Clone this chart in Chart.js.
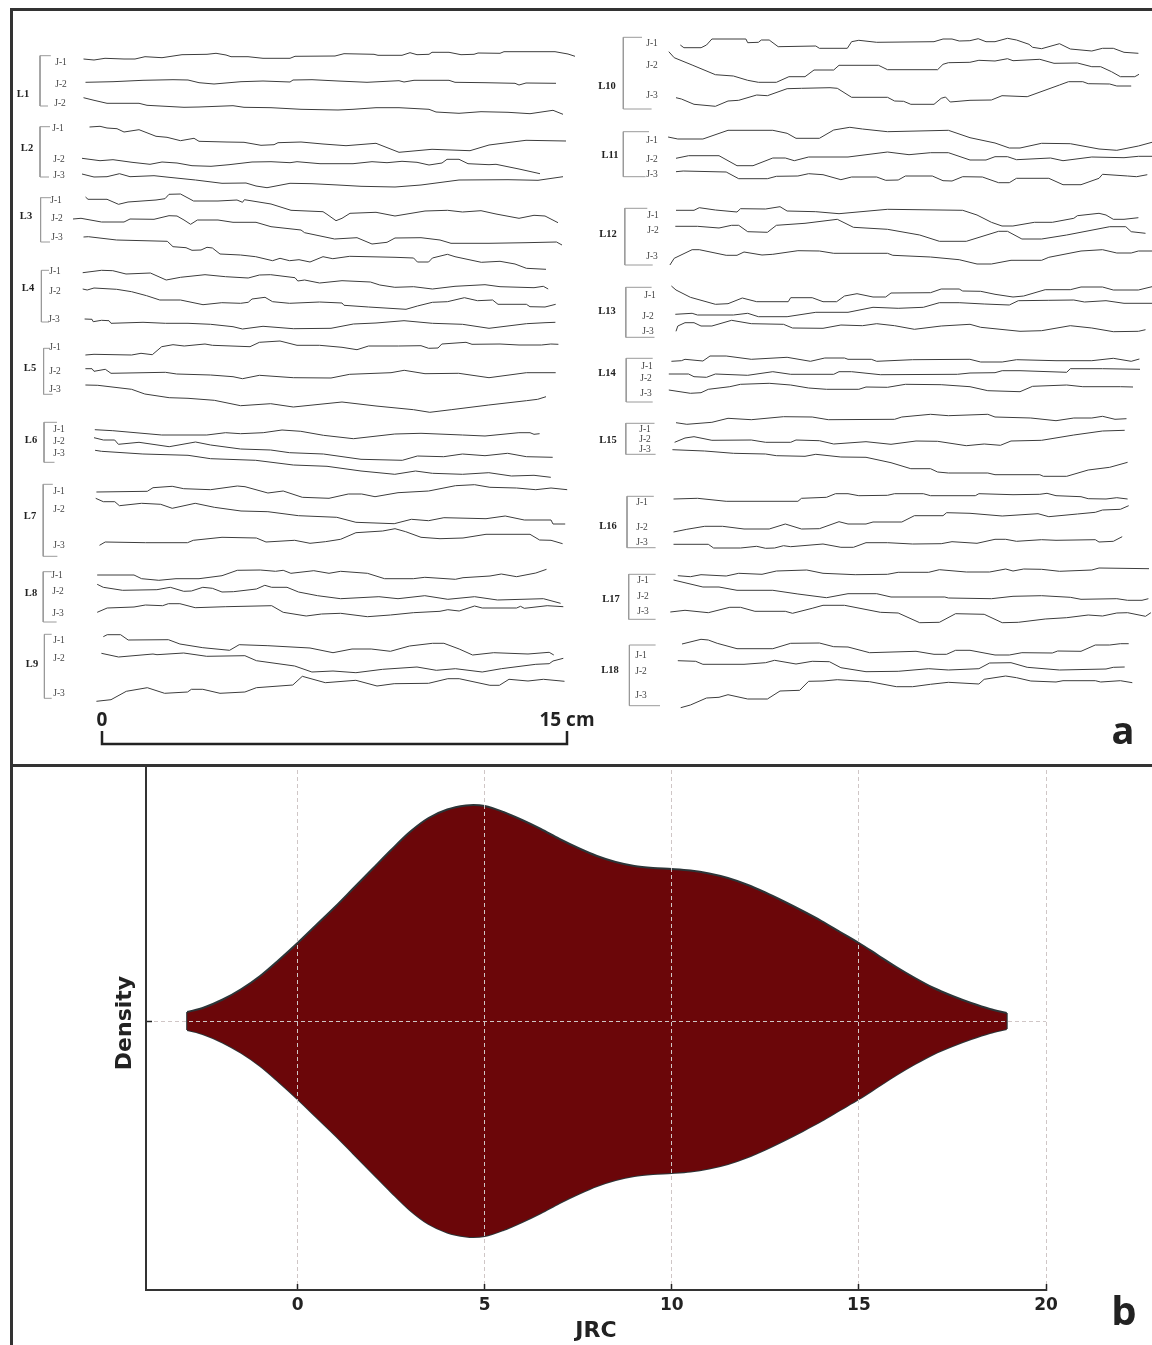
<!DOCTYPE html>
<html><head><meta charset="utf-8">
<style>
html,body{margin:0;padding:0;background:#fff;width:1152px;height:1345px;overflow:hidden}
canvas{position:absolute;left:0;display:block}
#a{top:0;background:#fff;z-index:2}#b{top:756px;z-index:1}
.f{position:absolute;background:#333;z-index:3}
</style>
<script src="https://cdn.jsdelivr.net/npm/chart.js@4"></script>
</head><body>
<canvas id="a" width="1152" height="765"></canvas>
<canvas id="b" width="1152" height="589"></canvas>
<div class="f" style="left:10px;top:8px;width:1142px;height:2.5px"></div>
<div class="f" style="left:10px;top:8px;width:2.5px;height:1337px"></div>
<div class="f" style="left:10px;top:764px;width:1142px;height:2.5px"></div>
<script>
// Panel a: joint profile traces, as x,y pairs
const L1_J1=[83.5,59,94,60,105,58.3,124,59,135,59,145,56.7,162,57.7,182,54.7,207,54.3,216,53.3,226,55,231,56.7,248,56.7,263,58.3,290,58.3,295,56.3,335,56,344,53.7,374,54.3,378,55.3,402,55.3,410,52.7,417,54.7,429,54.3,432,52.3,449,52.3,461,54.7,474,54.3,478,53,500,53.3,504,51.7,555,51.7,568,54,575,56.3];
const L1_J2=[85.5,82.3,113,81.7,143,80.3,173,79.7,188,80,199,82.7,214,84,241,81.7,263,81,290,82,293,80,312,79.7,338,81,367,82.3,399,80.7,404,82,414,80.3,449,80.3,455,82.3,485,82.7,515,83.3,519,85,526,83,556,83.3];
const L1_J3=[83.5,97.7,94,100.3,107,103.3,139,103.3,147,105.3,184,107.3,199,107,233,105.7,244,107.3,271,107.7,301,109.3,338,110,353,109.3,376,107.7,399,107.7,429,109.3,436,112,459,113.3,481,111.7,508,112.3,530,113.7,553,110.3,563,114.3];
const L2_J1=[89.5,127,100,126.3,107,128,117,128.7,124,132,139,129.7,156,136.3,167,137.3,180.5,140.7,194,138.3,199,141.3,226,142,244,142.3,261,145.3,274,144.7,278,142.7,301,142,323,144,346,145.7,376,143.3,399,152.3,432,149.3,470,150.7,489,145,526,140.3,566,141];
const L2_J2=[82,158.3,100,160.7,113,159.7,132,162.3,150,164.3,162,162,177,163,192,165.7,211,166.3,229,164.7,252,162,271,161.7,290,162.7,297,161.7,320,163.7,353,163.7,372,161.7,387,162.7,402,161.3,417,162.3,429,165,442,163,447,159.3,459,159.3,468,163.7,489,164.7,496,164.3,519,169,540,173.7];
const L2_J3=[82,174,94,177,107,176.7,119.5,173.7,130,176.7,154,175.7,169,177.3,195.5,180,222,183.3,246,183,256,186,267,187.7,290,183.3,312,183.7,338,185,361,186.3,395,187,421,185,459,180,508,179.7,538,180.3,563,176.7];
const L3_J1=[85.5,197,88,199.3,107,199.3,118.5,204.3,128,202,156,200,165,198.7,169,194.3,180.5,194,193.6,201,218,201,237,200,242.5,202.3,244.4,199.7,271,204,291,210.3,323,211.7,327,214.3,336,220.7,342,218.3,350,213.3,376,212.3,395,216,425,211,447.5,210.3,462.5,212,481,210.7,496,214,519,218.3,534,215.3,545,216,558,222.7];
const L3_J2=[73,219,81,218.3,101.5,222,124,222,130,219,154,219.3,169,215.7,177,216,184,220,190.6,224.3,197.4,220,218,220,233,222.3,256,222.3,271,226.7,301,230,304.6,232.7,334.6,239,357,237.7,372,244,387,242.3,395,238,421,237.7,440,240,451,243.3,489,243.3,526,242.7,556.5,242,562,245];
const L3_J3=[83.5,237,88.4,236.7,116.6,240,167.3,241.3,173,246.7,186,247.7,192,250.3,201,250,207,247.3,212.4,248,220,254,240.6,255,255.7,256.7,272.6,260.7,280,258.3,289.5,260.7,299,259.7,310,262,323,256.7,332.8,258.7,349.7,256.3,395,257.3,413.6,258,417.4,262,428.6,262,432.4,258,447.4,254.3,455,256.7,481.3,262.3,500,261.3,515,264,526.4,268.3,546,269.3];
const L4_J1=[82.7,272.7,101.5,270.3,112.8,270.7,126,274,150.4,273,166.2,280,180.5,277.3,205,274.7,225.6,276.7,248.2,278,259.4,275,270.7,274.7,295,277.7,297.8,281,304.6,280,319.6,283,342,280.7,370.4,282,379.8,285,394.8,287.3,413.6,286.7,432.4,289,455,286.3,485,284.7,500,286.7,534,287.7,543.3,286.3,548.2,289];
const L4_J2=[82.7,289,87.2,290,94,288,116.6,289.3,131.6,291.7,146.6,295.7,159.8,300,180.5,300,203,304.7,221.8,302.7,240.6,303.3,248.2,302.3,252,299,265,297.3,272.6,301.7,289.5,303.3,319.6,302,342,303,344,305.3,368.5,307,406,309.3,417.4,306,432.4,302.3,447.4,301.7,464.4,297.7,477.5,300.7,492.6,300,498,304.3,526.4,304.3,530,306.7,545,307,555.7,304.3];
const L4_J3=[84.6,319,92,319.3,93.2,321.7,101.5,320.3,109,320.7,111,323.3,143,322.3,165.4,323.3,188,323.3,210.6,324.3,233,326.7,242.5,329,263,326.3,293.3,328.7,331,328.3,353.4,324,376,323,404,320.7,432.4,323.3,462.5,324.3,489,328.3,526.4,323.7,545,322.7,555.4,322.3];
const L5_J1=[85.4,355,94,354.3,131.6,355,141,353.3,152.3,354.7,161.7,346.7,173,344.7,184.2,346,205,344,212.4,345.3,250,346.7,259.4,342.3,280,341,297,345.3,319.6,345.3,342,347.3,357,349.7,368.5,346,398.6,346,421,345.7,428.6,348.3,438,348,441.8,344,466,342.3,472,344.3,500,344,519,345,541.4,345,550.8,344,558.4,344.3];
const L5_J2=[85.4,368.7,92,368.7,94,371.3,105.3,369.3,111,373.3,165.4,372.3,176.7,374,210.6,375,233,376.7,242.5,378.7,259.4,375.3,293.3,377.7,331,378,349.7,374.3,391,372.7,404.2,370.3,425,373.7,458.7,373.3,489,377.7,526.4,372.7,555.7,372.7];
const L5_J3=[85.4,385,97.8,385.3,131.6,389.3,144.8,394,169.2,397.7,188,398.3,214.3,400.3,240.6,405.7,270.7,403.7,293.3,407,342,402,376,406,413.6,409.7,429.8,412.3,451.2,409.7,488.8,405,526.4,400.7,537.7,399.3,546,396.7];
const L6_J1=[94.8,429.7,112.8,430.7,161.7,435,206.8,435,225.6,432.7,240.6,433.7,263.2,432.7,282,430,300.8,431.3,323.4,435.3,353.4,438.7,394.8,434,421,433.3,462.5,435,485,436,518.9,432.7,530,432.7,534,434.3,539.6,433.7];
const L6_J2=[94,437.7,103.4,440,114.7,440,118.4,444.3,139,442.3,169.2,446.7,195.5,442,210.6,445,240.6,449,270.7,450,289.5,452.7,323.4,454,361,459.3,402.3,460.3,417.4,456,443.7,456.7,462.5,454,485,455.7,507.6,453.3,526.4,456.7,552.7,457.3];
const L6_J3=[95.1,450.3,101.5,451.3,142.9,454,188,455.3,210.6,458.7,255.7,460.3,293.3,465,327,466.3,361,471,394.8,474.3,415.5,471,432.4,473.3,462.5,474.3,488.8,472.7,511.4,476,534,475.3,550.8,477.3];
const L7_J1=[96.4,492,147.3,491.3,153,487.7,172.2,486.3,183.7,488.7,210.5,489.7,237.3,486,245,486.7,267.9,493,283.2,491,302.3,497.3,329,498.3,348.3,494,361.7,494,375,496.7,398,492.7,428.6,491,455.4,485.7,474.6,484.7,489.9,487.3,516.6,488,535.8,489.7,551,488,567.2,489.7];
const L7_J2=[95.7,498.3,103.3,501.7,114.8,501.7,119.4,505.7,141.6,503.3,160.7,504.3,172.2,508.3,195.2,503.3,214.3,507.3,241,511,267.9,511.7,298.5,515.7,336.8,517.3,355.9,522.3,394.2,523.7,411.4,519.3,428.6,520.7,443.9,517.7,486,518.7,505.2,516,524.3,520,551,520,553,524,565.2,524];
const L7_J3=[99.5,545.3,105.2,542,145.4,542.7,187.5,542.7,193.3,540.3,222,537.3,256.4,538,266,542,294.7,540.3,310,543.3,325.3,541.7,340.6,539.3,355.9,532.7,382.7,531,395,528.7,405.7,531.7,421,537.3,440,538.7,463,538,486,534.3,530,534.3,539.6,540,551,540.3,562.6,543.7];
const L8_J1=[97.2,575,134,575,141.6,578.7,158.8,580.3,176,578.7,199,578.7,222,575.7,237.3,570.3,260.2,570,275.5,571.3,283.2,570.3,290.9,573.3,313.8,570.7,329,573.3,340.6,571.3,367.4,573.3,384.6,578.7,413.3,578.7,424.8,577.3,455.4,579.3,463,577.7,490,576,501.3,574,516.6,576.7,535.8,573,546.5,569.3];
const L8_J2=[97.2,584.3,103.3,587.3,122.5,590.3,156.9,589.7,170.3,587.3,183.7,591.3,191.4,591,202.8,587.3,212.4,588.3,222,592,233.4,591.7,256.4,589,264.8,585.3,271.7,587.3,287,587.3,298.5,592,317.6,595.7,340.6,598.7,378.9,596.7,398,598.7,424.8,595.7,447.8,599.3,474.6,596.7,497.5,600,543.4,598.7,560.6,603.3];
const L8_J3=[97.2,612.3,107.2,608,134,607,145.4,605,162.6,605.7,168.4,603.7,179.9,603.7,195.2,607.7,225.8,606.7,271.7,605.7,283.2,612.3,306.2,616,321.5,614,340.6,613.3,367.4,616.7,390.4,615,413.3,612.7,440,611.3,447.8,609.7,459.2,611,474.6,606,482.2,608,516.6,608,520.5,606.3,524.3,608.3,547.2,605.7,563.3,606.7];
const L9_J1=[103.3,636.7,107.2,634.7,120.6,634.7,128.2,640,168.4,639.7,179.9,644,202.8,647.7,229.6,650.3,239.2,644.7,267.9,645.7,310,648,333,652.7,352,649,371.2,649,390.4,651.3,409.5,646,432.5,643.3,443.9,643.3,459.2,649,472.6,655,493.7,652.7,528,654,549.2,652.3,553.8,655];
const L9_J2=[101.4,653.3,118.6,657,153,654,157,654.7,183.7,653,206.7,656.3,244.9,655.7,256.4,660.7,294.7,666,311.9,672,333,671,355.9,672.7,382.7,669.3,417,667,436.3,670.3,455.4,668.7,482.2,672,501.3,668.7,535.8,664.3,549.2,663.7,553,661,563.3,658.3];
const L9_J3=[96.4,701.3,111,699.7,126.3,691.3,147.3,687.7,164.6,693.3,187.5,692,191.4,689.3,202.8,689.3,220,693.3,244.9,692,256.4,687.7,292.8,685,302.3,676.3,325.3,682.7,355.9,680.3,377,686,394.2,683.7,428.6,683.3,447.8,678.7,459.2,678.7,489.9,685.3,499.4,685.3,509,679.3,528,681,543.4,679.3,564.5,681.3];
const L10_J1=[680.3,45,683.9,47.7,701.1,47.7,706.5,45,711.9,39,745.9,39,747.7,42.7,758.4,42.3,761.3,40,769.2,40,778.2,46.7,815.8,46,819.4,48.3,847.3,48.3,851.6,41.7,858.8,40.3,876.7,42.3,934,41.7,943,39,952,39,959.2,41,969.9,40.7,978.2,38.7,986,41.7,995,41.7,1007.5,38.3,1016.5,40,1029,44.3,1032.6,47.3,1041.6,48.7,1059.5,43.7,1070.3,49,1091.8,51,1102.5,48.3,1113.3,48.3,1124,52.3,1138.4,53.3];
const L10_J2=[668.8,51.7,674.2,57.7,692.1,65,715.4,74.7,733.4,76,747.7,80.3,758.4,82.3,776.4,82.3,788.9,76.7,805,76.7,814,70,833.7,70,839,65.3,878.5,65.3,887.5,69.7,937.6,69.7,943,64.3,948.4,62.7,969.9,62.3,978.9,60.3,995,61,1007.5,58.7,1013,60.7,1039.8,59.3,1054,63.3,1077.4,63,1091.8,66.7,1100.7,66.7,1111.5,71.7,1120.4,76.7,1134.8,76.7,1139,74.3];
const L10_J3=[676,97.7,681.4,99,694,104.3,715.4,106.3,728,101,738.7,100.3,756.7,95,767.4,95.7,787.1,88.7,801.5,88.3,830,87.7,837.3,88.3,851.6,97.3,887.5,97.3,894.6,101,903.6,101.3,910.8,104.3,934,104.3,941.2,98.3,945.5,97,950.2,102,970,100.3,991.4,100,1002,95.7,1027.2,96.7,1059.5,85,1068.5,81.7,1082.8,81.7,1088.2,83.7,1109.7,84,1116.8,86,1131.2,86];
const L11_J1=[668.1,137,677.8,139,702.9,139,728,130.3,772.8,130.3,787.1,133.3,796,138.3,819.4,138.3,833.7,130,849.8,127.3,862.4,129,887.5,131.7,948.4,130.3,970,137.7,995,143,1009.3,148,1020,148,1041.6,143.3,1070.3,143.7,1099,149,1116.8,150.3,1138.4,146,1152,142.3];
const L11_J2=[676,158.3,688.6,155.7,719,155.7,737,165.7,753,165.7,772.8,158,785.3,158,794.3,160.7,808.6,157,848,157,887.5,152,909,154.7,930.5,152.7,948.4,152.7,970,160,986,160,995,156.7,1007.5,156.7,1016.5,159.7,1050.5,158,1063,160.7,1091.8,157,1124,157.7,1138.4,156.3,1152,156.3];
const L11_J3=[676,171.7,683.2,171,726.2,172,738.7,178.7,767.4,178.7,776.4,176.3,797.9,176,808.6,173.7,823,174.7,840.9,179.7,851.6,177,876.7,177,885.7,180.3,898.2,180,905.4,176,932.3,176,943,180.7,952,181,962.7,176.7,982.4,177,998.6,182.7,1009.3,182.7,1016.5,178.3,1048.8,178.3,1063,184.7,1081,184.7,1099,178.3,1102.5,174.3,1127.6,176,1136.6,176.7,1147.3,174.7];
const L12_J1=[676,210.3,694,210.3,699.3,207.7,715.4,210,737,212,740.5,208.7,765.6,209,780,206.7,787.1,211,815.8,211.7,839,213.7,887.5,209.3,962.7,210.3,977,215,991.4,222.3,1002,226,1012.9,226,1034.4,222.3,1052.3,222.3,1073.8,218.3,1077.4,215.7,1099,213.3,1106,215,1113.3,219.3,1124,219.3,1138.4,217.7];
const L12_J2=[675.3,226.3,697.5,226.3,719,228,731.6,225.3,738.7,225.3,747.7,231.7,767.4,232.3,776.4,225.3,805,223.3,837.3,219.3,853.4,227.3,887.5,229.3,919.7,235,939.4,241.3,966.3,241.3,998.6,231.3,1007.5,231.3,1021.9,239,1041.6,239,1066.7,235,1109.7,226.7,1125.8,226.7,1131.2,231.7,1145.5,233.3];
const L12_J3=[669.9,265,674.2,258.3,692.1,249.7,699.3,249.7,726.2,255.3,737,255.3,744,252,762,255,772.8,254.3,797.9,250.7,819.4,251,833.7,253.3,887.5,253.3,892.8,255.3,930.5,257,959.2,259.7,977,264,991.4,264,1011,260.3,1041.6,260.3,1048.8,257.3,1081,251,1102.5,249.7,1116.8,253,1131.2,253,1138.4,251,1152,251];
const L13_J1=[671.4,286,676,290,690.4,297.3,715.4,304.3,728,303.7,742.3,298,756.7,301.7,788.2,301.7,790.7,297.7,812.2,297.7,823,301.7,836.6,301.7,844.5,296,857,293.7,873,297,885.7,297,891,293,930.5,292.7,941.2,289,959.2,289,962.7,291,980.7,291.3,995,294.3,1013,297,1023.7,296,1045.2,289.7,1070.3,289.7,1081,287,1102.5,287,1113.3,290,1138.4,290,1152,286.7];
const L13_J2=[675.3,314.3,692.1,313.3,697.5,315,733.4,315,747.7,313.3,758.4,316.7,787.1,316.7,815.8,312.3,848,312.3,873,307.3,898.2,308.3,923.3,307.3,939.4,302.7,959.2,302.7,984.2,304,1009.3,305,1018.3,300.7,1048.8,300.3,1073.8,300,1084.5,302,1106,300.7,1124,303.3,1152,303.3];
const L13_J3=[676,331.3,677.8,326,685,322.7,694,322.7,701,326,711.9,326,731.6,320.3,751.3,323.7,783.5,324.3,792.5,328,823,328.3,840.9,325,862.4,325.7,876.7,323.7,894.6,325.7,914.4,329.3,941.2,326,970,324.3,980.7,327.3,1020,331.3,1041.6,330.7,1070.3,325.7,1091.8,328,1113.3,331.7,1138.4,331.3,1145.5,329.7];
const L14_J1=[671.4,361.3,681.4,360.7,685,359.3,702.9,361,710,356,726.2,356,751.3,359.3,787.1,357.3,810.4,361.3,824.8,358,844.5,358,848,359.3,871.3,359.3,876.7,361.3,912.6,359.7,969.9,359.3,980.7,362,1002.2,362,1016.5,359.7,1056,360.7,1091.8,360.7,1113.3,358.3,1131.2,361.3,1139.4,359];
const L14_J2=[668.8,374,688.6,374,694,376.7,706.5,377.3,715.4,374,747.7,375.3,772.8,371.7,790.7,374.3,833.7,374.3,839,371.7,851.6,371.7,880.3,374.7,957.4,374.3,970,373,995,372.7,1002.2,370.7,1020,370.7,1066.7,372.3,1070.3,368.7,1102.5,368.7,1140,369.3];
const L14_J3=[668.8,390,690.4,393.3,701,392.7,708.3,389.3,729.8,386.7,740.5,384.3,769.2,383.3,790.7,385,808.6,388,826.5,389.3,858.8,389.3,866,387,887.5,387.3,905.4,384.3,941.2,384.7,970,386.7,987.8,390.7,1020,391.7,1032.6,386.3,1066.7,385,1082.8,386.7,1120.4,386.7,1133,387];
const L15_J1=[676,422.7,686.8,424.3,711.9,422.3,728,418.3,751.3,419.7,783.5,416.7,812.2,417,828.3,419.7,894.6,419.3,901.8,417,930.5,414.3,948.4,415.7,987.8,414.3,995,417,1030.8,418,1056,420.7,1073.8,418,1091.8,418,1102.5,416.3,1115,419.3,1126.5,418.7];
const L15_J2=[674.6,442.3,685,438,694,436.7,711.9,440.3,751.3,440,765.6,442.3,790.7,442.3,796,440,819.4,440.7,833.7,444,866,441.7,891,444.3,916,441,937.6,441.3,966.3,445.7,984.2,444,1000.4,445.3,1011,441,1041.6,440.3,1073.8,435,1102.5,431,1124.7,430.3];
const L15_J3=[672.4,449.7,704.7,451,733.4,453.3,765.6,454,776.4,455.7,805,456.3,815.8,454.3,840.9,457,866,457.3,891,462.7,910.8,468.7,930.5,468.7,937.6,472,948.4,473,987.8,473,995,474.7,1039.8,474.7,1043.4,476.3,1066.7,476.3,1088.2,470,1109.7,467.3,1127.6,462.3];
const L16_J1=[673.5,499,697.5,498.3,726.2,501.3,797.9,501.3,801.5,498.3,826.5,497.3,835.5,493.7,848,493.7,858.8,495.7,887.5,495.3,894.6,493.7,923.3,493.7,930.5,495.7,975.3,495.7,978.9,493.7,1013,494.7,1039.8,494.3,1047,493.3,1056,495.7,1081,496.7,1088.2,498.7,1106,499,1116.8,497.7,1127.6,499];
const L16_J2=[673.5,532,686.8,529.3,704.7,526.3,722.6,526.3,744,529,769.2,529,785.3,524,801.5,529,819.4,528.7,839,521.7,848,524,866,524,873,522,901.8,522,914.4,515.7,943,515.7,946.6,512.7,970,513.3,1002.2,516,1038,513.7,1048.8,516.7,1077.4,514,1095.3,512.3,1102.5,510,1120.4,509.3,1128.7,505.7];
const L16_J3=[673.5,544.3,708.3,544.3,713.6,548,740.5,548,756.7,546.3,765.6,548.3,774.6,548,783.5,545.7,790.7,546.7,823,544,840.9,547.3,853.4,547.3,866,542.7,887.5,542.7,912.6,544,941.2,543.7,952,541.7,977,543.3,995,539.3,1005.7,539.3,1016.5,541.3,1041.6,539.7,1056,540.3,1095.3,539.7,1099,542,1113.3,541.3,1122.2,536.7];
const L17_J1=[677.8,575.7,690.4,576.7,701,574.7,726.2,576,738.7,573.3,762,574.3,776.4,571,806.8,570,823,573.3,855.2,574.7,887.5,574.3,898.2,572.3,928.7,572.3,939.4,569.7,966.3,572,989.6,572,1005.7,569,1013,571,1023.7,569,1041.6,569.3,1059.5,571.3,1091.8,570,1099,568,1149,568.7];
const L17_J2=[673.5,580,702.9,587,719,587,737,590.3,772.8,590.3,797.9,594,826.5,597.7,848,593.7,876.7,593.7,891,597,944.8,597,948.4,598,991.4,598.7,1013,596.3,1041.6,595.7,1070.3,597.3,1081,599.3,1116.8,598.7,1127.6,600.3,1142,600.3,1148.4,598.7];
const L17_J3=[670.3,612,685,610.3,708.3,612.7,729.8,607.3,740.5,607.3,754.9,611.3,785.3,611.3,792.5,613.3,812.2,608.3,823,605.3,844.5,605.3,880.3,612.3,898.2,613,919.7,622.7,939.4,622.3,955.6,613.7,984.2,614.3,1002.2,622.7,1018.3,622.3,1045.2,619,1066.7,617.7,1088.2,615,1102.5,616,1116.8,613,1127.6,612.7,1145.5,616.3,1150.9,612.7];
const L18_J1=[682,644,701,639.3,708.3,640,717.2,643.3,737,648.7,772.8,648.7,790.7,643.3,819.4,643,833.7,646.7,848,647,869.6,652.7,916,651.3,934,654.3,946.6,654.3,955.6,650.3,970,650.3,995,655,1009.3,655,1021.9,652.7,1052.3,653,1057.7,651,1081,651.3,1095.3,645,1109.7,645,1120.4,643.7,1128.7,643.7];
const L18_J2=[677.8,660.7,695.7,661.3,702.9,664.3,744,664.3,765.6,662.7,774.6,660.3,796,664,812.2,661.3,829.4,661.7,840.9,667.7,866,671.7,898.2,671.3,928.7,668.7,948.4,670,978.9,668.7,989.6,663,1011,662.7,1027.2,667.3,1059.5,670,1106,669,1113.3,667.3,1124.7,667];
const L18_J3=[680.7,707.7,690.4,705,706.5,698,719,697.3,728,694.7,747.7,699,767.4,699,780,691,799.7,690.3,808.6,681.3,823,681,837.3,679.7,869.6,681.7,896.4,686.7,912.6,686.7,930.5,684.3,948.4,682.3,978.9,684,984.2,679.3,1005.7,676,1016.5,677.7,1030.8,681,1056,682,1063,680.7,1095.3,680.7,1100.7,682,1120.4,680.7,1132.3,682.7];
const profiles=[L1_J1,L1_J2,L1_J3,L2_J1,L2_J2,L2_J3,L3_J1,L3_J2,L3_J3,L4_J1,L4_J2,L4_J3,L5_J1,L5_J2,L5_J3,L6_J1,L6_J2,L6_J3,L7_J1,L7_J2,L7_J3,L8_J1,L8_J2,L8_J3,L9_J1,L9_J2,L9_J3,L10_J1,L10_J2,L10_J3,L11_J1,L11_J2,L11_J3,L12_J1,L12_J2,L12_J3,L13_J1,L13_J2,L13_J3,L14_J1,L14_J2,L14_J3,L15_J1,L15_J2,L15_J3,L16_J1,L16_J2,L16_J3,L17_J1,L17_J2,L17_J3,L18_J1,L18_J2,L18_J3];
// Brackets grouping each line's joints
const brackets=[[50.8,55.7,40,55.7,40,106,48,106],[50,126.7,40,126.7,40,177,49,177],[51,197.7,40.6,197.7,40.6,242,50,242],[49,270.3,41.4,270.3,41.4,322,49,322],[50,348.3,43.6,348.3,43.6,394.3,52.6,394.3],[57,422.3,44,422.3,44,462.3,54.5,462.3],[52.8,484.3,43.2,484.3,43.2,556.3,57.4,556.3],[51.7,571.7,43.2,571.7,43.2,622,56.6,622],[51.7,634.3,44.4,634.3,44.4,698.3,51.7,698.3],[642,37.3,623.3,37.3,623.3,109,651.6,109],[649,131.7,623.3,131.7,623.3,176.7,645.6,176.7],[647.3,208.3,624.8,208.3,624.8,265,652.7,265],[651.6,287.3,625.8,287.3,625.8,337.3,654.5,337.3],[652.7,358.3,626.2,358.3,626.2,402,652.7,402],[654.5,423.3,625.8,423.3,625.8,454.3,655.6,454.3],[653.8,496.3,627,496.3,627,547.7,655.6,547.7],[655.6,574.3,628.7,574.3,628.7,619.3,655.6,619.3],[655.6,645,629.4,645,629.4,705.7,660,705.7]];
const scaleBar=[102,731,102,744,567,744,567,731];
const lineLabels=[["L1",23,94],["L2",27,148],["L3",26,216],["L4",28,288],["L5",30,368],["L6",31,440],["L7",30,516],["L8",31,593],["L9",32,664],["L10",607,86],["L11",610,155],["L12",608,234],["L13",607,311],["L14",607,373],["L15",608,440],["L16",608,526],["L17",611,599],["L18",610,670]];
const jointLabels=[["J-1",61,62],["J-2",61,84],["J-2",60,103],["J-1",58,128],["J-2",59,159],["J-3",59,175],["J-1",56,200],["J-2",57,218],["J-3",57,237],["J-1",55,271],["J-2",55,291],["J-3",54,319],["J-1",55,347],["J-2",55,371],["J-3",55,389],["J-1",59,429],["J-2",59,441],["J-3",59,453],["J-1",59,491],["J-2",59,509],["J-3",59,545],["J-1",57,575],["J-2",58,591],["J-3",58,613],["J-1",59,640],["J-2",59,658],["J-3",59,693],["J-1",652,43],["J-2",652,65],["J-3",652,95],["J-1",652,140],["J-2",652,159],["J-3",652,174],["J-1",653,215],["J-2",653,230],["J-3",652,256],["J-1",650,295],["J-2",648,316],["J-3",648,331],["J-1",647,366],["J-2",646,378],["J-3",646,393],["J-1",645,429],["J-2",645,439],["J-3",645,449],["J-1",642,502],["J-2",642,527],["J-3",642,542],["J-1",643,580],["J-2",643,596],["J-3",643,611],["J-1",641,655],["J-2",641,671],["J-3",641,695]];
// Panel b: JRC violin
const jrc=[-2.95,-2.5,-2,-1.5,-1,-0.5,0,0.5,1,1.5,2,2.5,3,3.5,4,4.5,4.7,5,5.5,6,6.5,7,7.5,8,8.5,9,9.5,10,10.5,11,11.5,12,12.5,13,13.5,14,14.5,15,15.5,16,16.5,17,17.5,18,18.5,18.95];
const density=[9,13.5,21.5,32,45,61,78,96,114,133,152,171,189,203,211.5,215.5,216,215,209,201,192,182,173,165,159,155,153,152,150.5,147.5,143,136.5,128.5,119.5,110,100,89,78,66,54,43,33,25,18,12,8];
const jrcTicks=[0,5,10,15,20];

const pairs=a=>{const o=[];for(let i=0;i<a.length;i+=2)o.push({x:a[i],y:a[i+1]});return o;};
const traceSet=(a,color,w)=>({data:pairs(a),borderColor:color,borderWidth:w,pointRadius:0,tension:0,fill:false});
const textPlugin={id:'panelText',afterDraw(c){
  const {ctx,scales:{x,y}}=c;const put=(t,px,py,font,col)=>{ctx.font=font;ctx.fillStyle=col;ctx.fillText(t,x.getPixelForValue(px),y.getPixelForValue(py));};
  ctx.save();ctx.textAlign='center';ctx.textBaseline='middle';
  lineLabels.forEach(l=>put(l[0],l[1],l[2],'bold 10.5px "Liberation Serif"','#222'));
  jointLabels.forEach(l=>put(l[0],l[1],l[2],'9.5px "Liberation Serif"','#444'));
  put('0',102,721,'bold 19px "Open Sans"','#222');
  put('15 cm',567,721,'bold 19px "Open Sans"','#222');
  put('a',1123,733,'bold 38px "Open Sans"','#222');
  ctx.restore();
}};
new Chart(document.getElementById('a'),{type:'line',
  data:{datasets:[...profiles.map(p=>traceSet(p,'#3c3c3c',1)),...brackets.map(b=>traceSet(b,'#9a9a9a',1)),traceSet(scaleBar,'#222',2.5)]},
  plugins:[textPlugin],
  options:{responsive:false,animation:false,events:[],layout:{padding:0},
    plugins:{legend:{display:false},tooltip:{enabled:false},title:{display:false}},
    scales:{x:{type:'linear',display:false,min:0,max:1152},y:{type:'linear',display:false,min:0,max:765,reverse:true}}}});

const upper=jrc.map((v,i)=>({x:v,y:density[i]}));
const lower=jrc.map((v,i)=>({x:v,y:-density[i]}));
const edge='#2c3538';
const letterB={id:'letterB',afterDraw(c){const g=c.ctx;g.save();g.font='bold 40px "Open Sans"';g.fillStyle='#222';g.textAlign='center';g.textBaseline='middle';
  g.fillText('b',1124,558);g.restore();}};
new Chart(document.getElementById('b'),{type:'line',
  data:{datasets:[
    {data:upper,borderColor:edge,borderWidth:2,backgroundColor:'#6b0609',fill:'+1',pointRadius:0,cubicInterpolationMode:'monotone'},
    {data:lower,borderColor:edge,borderWidth:2,fill:false,pointRadius:0,cubicInterpolationMode:'monotone'},
    {data:[upper[0],lower[0]],borderColor:edge,borderWidth:2,pointRadius:0,fill:false},
    {data:[upper[upper.length-1],lower[lower.length-1]],borderColor:edge,borderWidth:2,pointRadius:0,fill:false}
  ]},
  plugins:[letterB],
  options:{responsive:false,animation:false,events:[],
    layout:{padding:{left:0,top:0,right:106,bottom:0}},
    plugins:{legend:{display:false},tooltip:{enabled:false},title:{display:false}},
    scales:{
      x:{type:'linear',min:-4.05,max:20,
        afterBuildTicks:s=>{s.ticks=jrcTicks.map(v=>({value:v}));},
        afterFit:s=>{s.height=55;},
        grid:{z:1,color:'#cfc6c6',lineWidth:1,tickLength:-6,tickColor:'#222',tickWidth:1.5,drawTicks:true},
        border:{z:2,display:true,color:'#333',width:2,dash:[4,3]},
        ticks:{autoSkip:false,maxRotation:0,color:'#222',padding:11,font:{family:'"DejaVu Sans"',weight:'bold',size:17}},
        title:{display:true,text:'JRC',color:'#222',font:{family:'"DejaVu Sans"',weight:'bold',size:22},padding:{top:0,bottom:1}}},
      y:{type:'linear',min:-269,max:265,
        afterBuildTicks:s=>{s.ticks=[{value:0}];},
        afterFit:s=>{s.width=146;},
        grid:{z:1,color:'#cfc6c6',lineWidth:1,tickLength:-6,tickColor:'#222',tickWidth:1.5},
        border:{z:2,display:true,color:'#333',width:2,dash:[4,3]},
        ticks:{display:false},
        title:{display:true,text:'Density',color:'#222',font:{family:'"DejaVu Sans"',weight:'bold',size:22},padding:{top:112,bottom:0}}}
    }}});
</script>
</body></html>
